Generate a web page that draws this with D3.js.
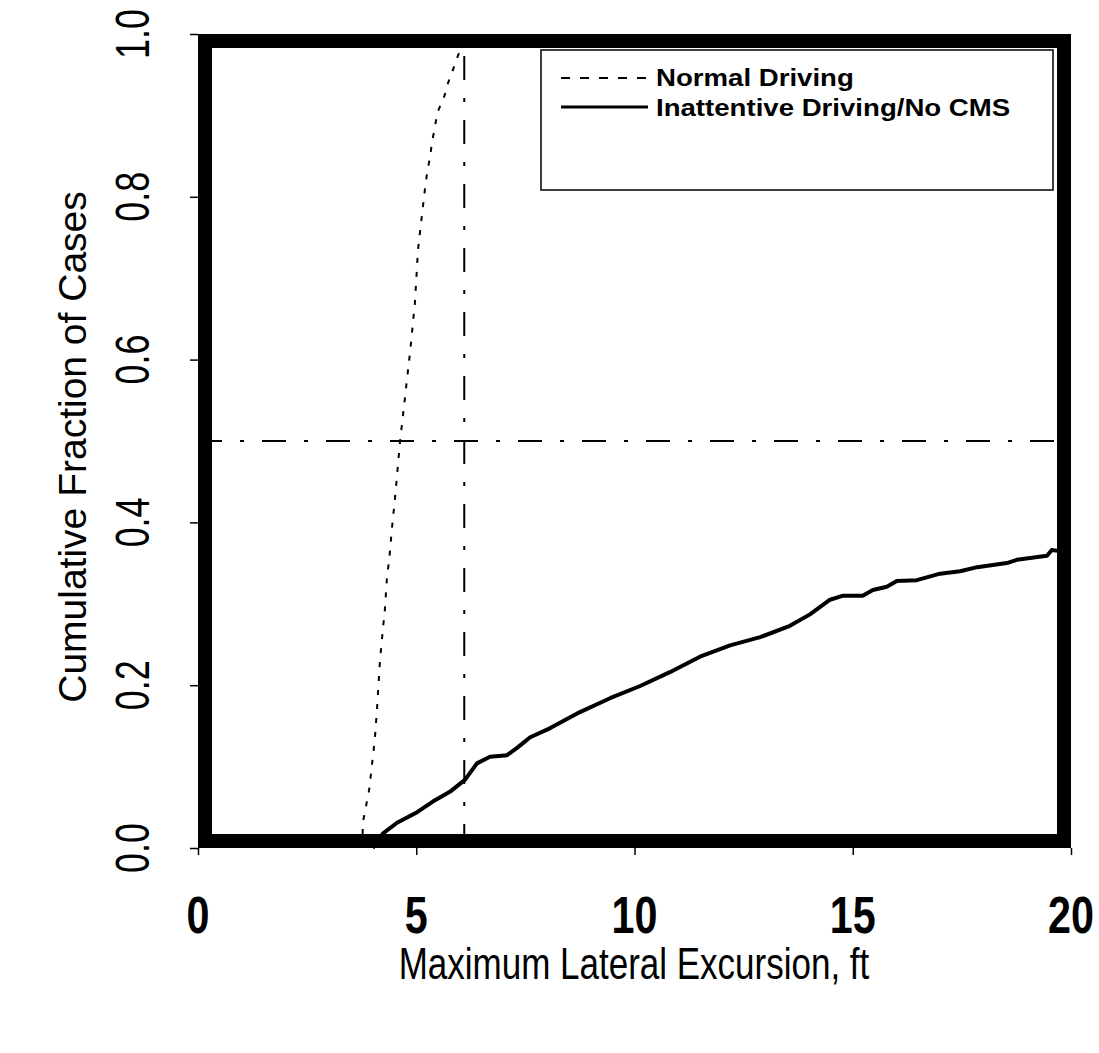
<!DOCTYPE html>
<html>
<head>
<meta charset="utf-8">
<script src="https://cdnjs.cloudflare.com/ajax/libs/d3/7.8.5/d3.min.js"></script>
<style>
  body { margin: 0; background: #fff; }
  text { font-family: "Liberation Sans", Arial, sans-serif; fill: #000; }
</style>
</head>
<body>
<svg id="chart" width="1099" height="1053"></svg>
<script>
// x ticks / y ticks
var xTicks = [0, 5, 10, 15, 20];
var yTicks = [0.0, 0.2, 0.4, 0.6, 0.8, 1.0];

// Normal Driving (dotted) - excursion ft, cumulative fraction
var normalX = [3.76, 3.78, 3.92, 4.05, 4.10, 4.17, 4.24, 4.28, 4.33, 4.38, 4.44, 4.51, 4.63, 4.86, 4.97, 5.04, 5.20, 5.25, 5.32, 5.36, 5.43, 5.48, 5.64, 5.73, 5.84, 5.96, 6.12, 6.16];
var normalY = [0.0, 0.032, 0.071, 0.133, 0.170, 0.231, 0.271, 0.292, 0.333, 0.354, 0.391, 0.428, 0.50, 0.61, 0.67, 0.735, 0.81, 0.83, 0.85, 0.867, 0.886, 0.903, 0.923, 0.94, 0.956, 0.974, 0.993, 1.0];

// Inattentive Driving/No CMS (solid)
var inattX = [4.0, 4.24, 4.56, 5.02, 5.38, 5.77, 6.12, 6.39, 6.69, 7.08, 7.31, 7.61, 8.06, 8.75, 9.44, 10.13, 10.81, 11.5, 12.19, 12.88, 13.56, 14.02, 14.48, 14.78, 15.23, 15.46, 15.78, 16.01, 16.47, 17.0, 17.46, 17.85, 18.53, 18.76, 19.45, 19.56, 19.7];
var inattY = [0.0, 0.018, 0.031, 0.044, 0.057, 0.069, 0.084, 0.104, 0.112, 0.114, 0.123, 0.136, 0.147, 0.167, 0.184, 0.199, 0.216, 0.235, 0.249, 0.259, 0.273, 0.287, 0.305, 0.31, 0.31, 0.317, 0.321, 0.328, 0.329, 0.337, 0.34, 0.345, 0.35, 0.354, 0.359, 0.366, 0.365];

// reference lines
var refX = 6.1;
var refY = 0.5;

var svg = d3.select("#chart");

var x = d3.scaleLinear().domain([0, 20]).range([198, 1071]);
var y = d3.scaleLinear().domain([0, 1]).range([848, 34]);

var line = d3.line()
  .x(function(d) { return x(d[0]); })
  .y(function(d) { return y(d[1]); });

var normal = normalX.map(function(v, i) { return [v, normalY[i]]; });
var inatt = inattX.map(function(v, i) { return [v, inattY[i]]; });

// axes (ticks only)
svg.append("g")
  .attr("transform", "translate(0," + y(0) + ")")
  .call(d3.axisBottom(x).tickValues(xTicks).tickSize(7).tickFormat(""))
  .call(function(g) { g.select(".domain").remove(); })
  .selectAll("line").attr("stroke-width", 1.5);

svg.append("g")
  .attr("transform", "translate(" + x(0) + ",0)")
  .call(d3.axisLeft(y).tickValues(yTicks).tickSize(8).tickFormat(""))
  .call(function(g) { g.select(".domain").remove(); })
  .selectAll("line").attr("stroke-width", 1.5);

// reference lines
svg.append("line")
  .attr("x1", x(refX)).attr("x2", x(refX))
  .attr("y1", y(0)).attr("y2", y(1))
  .attr("stroke", "#000").attr("stroke-width", 2)
  .attr("stroke-dasharray", "24,18,4,18");

svg.append("line")
  .attr("x1", x(0)).attr("x2", x(20))
  .attr("y1", y(refY)).attr("y2", y(refY))
  .attr("stroke", "#000").attr("stroke-width", 2)
  .attr("stroke-dasharray", "24,18,4,18");

// curves
svg.append("path").datum(normal)
  .attr("d", line)
  .attr("fill", "none").attr("stroke", "#000")
  .attr("stroke-width", 2).attr("stroke-dasharray", "5,9");

svg.append("path").datum(inatt)
  .attr("d", line)
  .attr("fill", "none").attr("stroke", "#000")
  .attr("stroke-width", 4).attr("stroke-linejoin", "round");

// thick frame
svg.append("rect")
  .attr("x", x(0) + 7).attr("y", y(1) + 7)
  .attr("width", x(20) - x(0) - 14).attr("height", y(0) - y(1) - 14)
  .attr("fill", "none").attr("stroke", "#000").attr("stroke-width", 14);

// tick labels
svg.selectAll(".xl").data(xTicks).enter().append("text")
  .attr("class", "xl")
  .attr("transform", function(d) { return "translate(" + x(d) + ",933) scale(0.86,1.08)"; })
  .attr("text-anchor", "middle")
  .style("font-size", "48px").style("font-weight", "bold")
  .text(function(d) { return d; });

svg.selectAll(".yl").data(yTicks).enter().append("text")
  .attr("class", "yl")
  .attr("transform", function(d) { return "translate(149," + y(d) + ") rotate(-90) scale(0.78,1.05)"; })
  .attr("text-anchor", "middle")
  .style("font-size", "46px")
  .text(function(d) { return d3.format(".1f")(d); });

// axis titles
svg.append("text")
  .attr("transform", "translate(634,979) scale(1,1.25)")
  .attr("text-anchor", "middle")
  .style("font-size", "35px")
  .text("Maximum Lateral Excursion, ft");

svg.append("text")
  .attr("transform", "translate(86,447) rotate(-90)")
  .attr("text-anchor", "middle")
  .style("font-size", "39px")
  .text("Cumulative Fraction of Cases");

// legend
var lg = svg.append("g");
lg.append("rect")
  .attr("x", 541).attr("y", 50).attr("width", 512).attr("height", 140)
  .attr("fill", "#fff").attr("stroke", "#000").attr("stroke-width", 1.5);
lg.append("line")
  .attr("x1", 561).attr("x2", 648).attr("y1", 78).attr("y2", 78)
  .attr("stroke", "#000").attr("stroke-width", 2).attr("stroke-dasharray", "9,10");
lg.append("line")
  .attr("x1", 561).attr("x2", 648).attr("y1", 107).attr("y2", 107)
  .attr("stroke", "#000").attr("stroke-width", 3);
lg.append("text")
  .attr("transform", "translate(656,86) scale(1.15,1)")
  .style("font-size", "24px").style("font-weight", "bold")
  .text("Normal Driving");
lg.append("text")
  .attr("transform", "translate(656,116) scale(1.15,1)")
  .style("font-size", "24px").style("font-weight", "bold")
  .text("Inattentive Driving/No CMS");
</script>
</body>
</html>
